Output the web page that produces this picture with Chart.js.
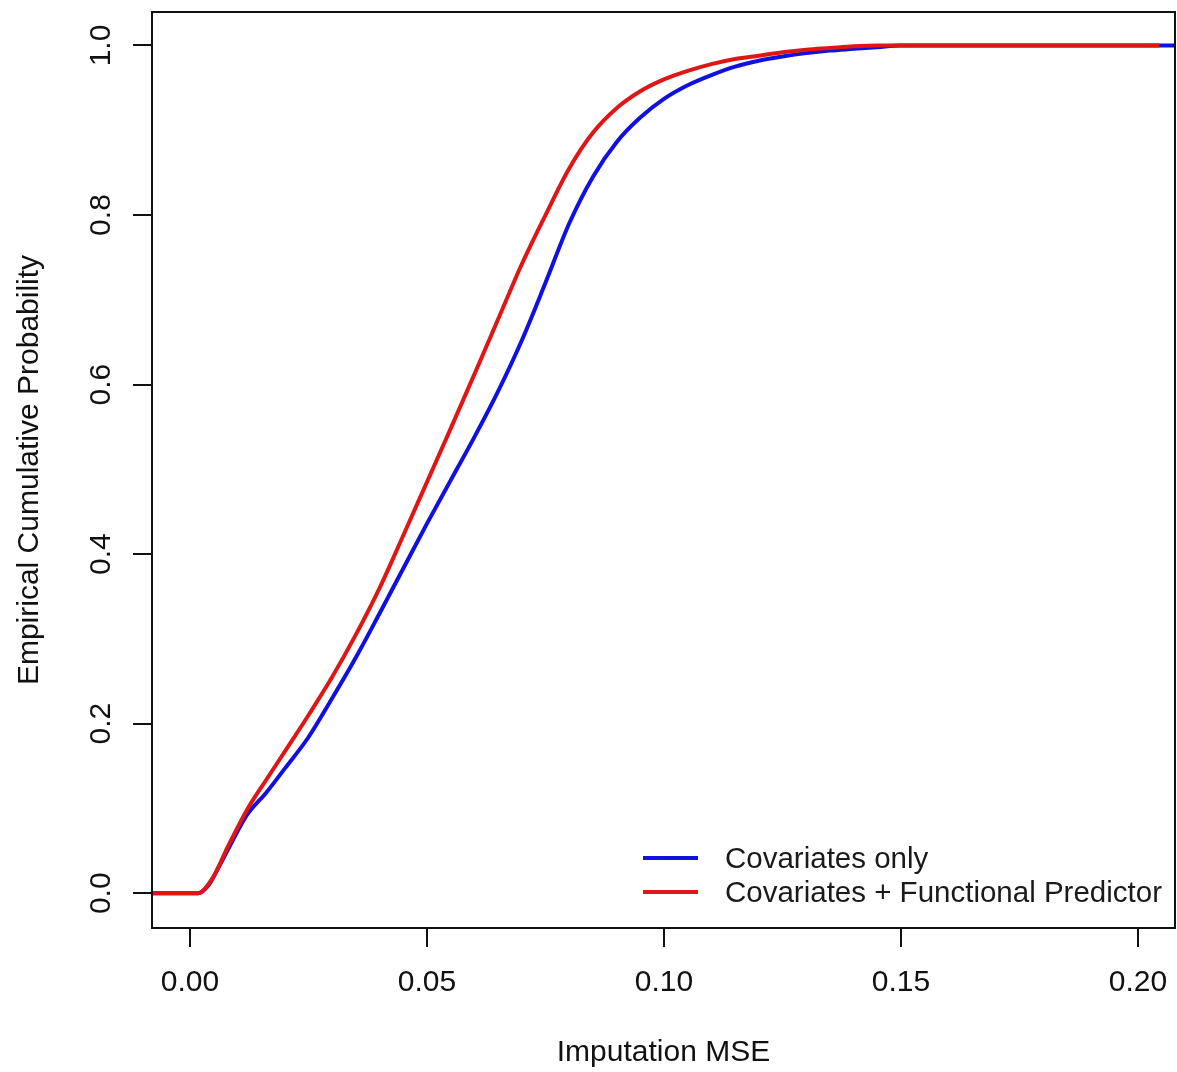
<!DOCTYPE html>
<html>
<head>
<meta charset="utf-8">
<title>Empirical CDF of imputation MSE</title>
<script src="https://cdn.jsdelivr.net/npm/chart.js@4.4.1/dist/chart.umd.min.js"></script>
<style>
  body { margin: 0; background: #fff; }
  #wrap { position: relative; width: 1177px; height: 1072px; }
  #legend {
    position: absolute; left: 643px; top: 841px;
    font: 29.5px "Liberation Sans", Arial, sans-serif; color: #1a1a1a;
  }
  .row { display: flex; align-items: center; height: 34px; white-space: nowrap; }
  .swatch { width: 55px; height: 4px; margin-right: 27px; }
</style>
</head>
<body>
<div id="wrap">
  <canvas id="ecdf" width="1177" height="1072"></canvas>
  <div id="legend"></div>
</div>
<script>
// series
var seriesNames = ["Covariates only", "Covariates + Functional Predictor"];
var seriesColors = ["#1010e0", "#e01515"];

var mseCov = [-0.008, 0.0017, 0.004, 0.006, 0.009, 0.012, 0.016, 0.020, 0.025, 0.030, 0.035, 0.040,
  0.045, 0.050, 0.055, 0.060, 0.065, 0.070, 0.075, 0.080, 0.085, 0.090, 0.095, 0.100, 0.105, 0.110,
  0.115, 0.120, 0.125, 0.130, 0.135, 0.140, 0.145, 0.150, 0.22];
var cdfCov = [0, 0, 0.01, 0.03, 0.062, 0.092, 0.118, 0.147, 0.184, 0.23, 0.278, 0.33,
  0.383, 0.436, 0.487, 0.538, 0.592, 0.652, 0.72, 0.79, 0.845, 0.886, 0.915, 0.937, 0.953, 0.965,
  0.975, 0.982, 0.987, 0.991, 0.994, 0.996, 0.998, 1, 1];

var mseFun = [-0.008, 0.0017, 0.0049, 0.008, 0.012, 0.016, 0.020, 0.025, 0.030, 0.035, 0.040, 0.045,
  0.050, 0.055, 0.060, 0.065, 0.070, 0.075, 0.080, 0.085, 0.090, 0.095, 0.100, 0.105, 0.110, 0.115,
  0.120, 0.125, 0.130, 0.135, 0.140, 0.145, 0.2045];
var cdfFun = [0, 0, 0.019, 0.055, 0.098, 0.133, 0.167, 0.21, 0.255, 0.305, 0.36, 0.422,
  0.485, 0.548, 0.612, 0.677, 0.742, 0.80, 0.855, 0.897, 0.926, 0.946, 0.960, 0.970, 0.978, 0.984,
  0.988, 0.992, 0.995, 0.997, 0.999, 1, 1];

var xTicks = [0, 0.05, 0.10, 0.15, 0.20];
var yTicks = [0, 0.2, 0.4, 0.6, 0.8, 1.0];
var xRange = [-0.008, 0.2078];
var yRange = [-0.041, 1.0395];

function toPoints(xs, ys) {
  return xs.map(function (x, i) { return { x: x, y: ys[i] }; });
}

var font = { family: "'Liberation Sans', Arial, sans-serif", size: 30 };
var ink = "#111";

// R style box round the plot region
var plotBox = {
  id: "plotBox",
  afterDraw: function (chart) {
    var a = chart.chartArea, ctx = chart.ctx;
    ctx.save();
    ctx.strokeStyle = ink;
    ctx.lineWidth = 2;
    ctx.strokeRect(a.left, a.top, a.right - a.left, a.bottom - a.top);
    ctx.restore();
  }
};

var ctx = document.getElementById("ecdf").getContext("2d");
var chart = new Chart(ctx, {
  type: "line",
  data: {
    datasets: [
      {
        label: seriesNames[0],
        data: toPoints(mseCov, cdfCov),
        borderColor: seriesColors[0],
        backgroundColor: seriesColors[0],
        borderWidth: 4,
        pointRadius: 0,
        cubicInterpolationMode: "monotone",
        order: 1,
      },
      {
        label: seriesNames[1],
        data: toPoints(mseFun, cdfFun),
        borderColor: seriesColors[1],
        backgroundColor: seriesColors[1],
        borderWidth: 4,
        pointRadius: 0,
        cubicInterpolationMode: "monotone",
        order: 0,
      },
    ],
  },
  options: {
    responsive: false,
    animation: false,
    layout: { padding: { top: 12, right: 2, left: 0, bottom: 0 } },
    plugins: {
      legend: { display: false },
      tooltip: { enabled: false },
    },
    scales: {
      x: {
        type: "linear",
        min: xRange[0],
        max: xRange[1],
        afterBuildTicks: function (s) { s.ticks = xTicks.map(function (v) { return { value: v }; }); },
        afterFit: function (s) { s.height = 144; s.paddingLeft = 0; s.paddingRight = 0; },
        grid: { drawOnChartArea: false, tickLength: 19, color: ink, lineWidth: 2 },
        border: { color: ink, width: 2 },
        ticks: {
          font: font, color: ink, padding: 18, autoSkip: false, maxRotation: 0,
          callback: function (v) { return v.toFixed(2); },
        },
        title: { display: true, text: "Imputation MSE", font: font, color: ink, padding: { top: 0, bottom: 1 } },
      },
      y: {
        type: "linear",
        min: yRange[0],
        max: yRange[1],
        afterBuildTicks: function (s) { s.ticks = yTicks.map(function (v) { return { value: v }; }); },
        afterFit: function (s) { s.width = 152; s.paddingTop = 0; s.paddingBottom = 0; },
        grid: { drawOnChartArea: false, tickLength: 19, color: ink, lineWidth: 2 },
        border: { color: ink, width: 2 },
        ticks: {
          font: font, color: ink, padding: 10, minRotation: 90, maxRotation: 90, crossAlign: "center",
          callback: function (v) { return v.toFixed(1); },
        },
        title: { display: true, text: "Empirical Cumulative Probability", font: font, color: ink, padding: { top: 12, bottom: 0 } },
      },
    },
  },
  plugins: [plotBox],
});

// legend drawn as html inside the plot, bottom right like the original
var legendEl = document.getElementById("legend");
seriesNames.forEach(function (name, i) {
  var row = document.createElement("div");
  row.className = "row";
  var sw = document.createElement("span");
  sw.className = "swatch";
  sw.style.background = seriesColors[i];
  var txt = document.createElement("span");
  txt.textContent = name;
  row.appendChild(sw);
  row.appendChild(txt);
  legendEl.appendChild(row);
});
</script>
</body>
</html>
